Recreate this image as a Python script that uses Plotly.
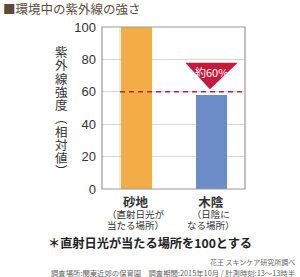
import plotly.graph_objects as go

categories = ["砂地", "木陰"]
sub_line1 = ["（直射日光が", "（日陰に"]
sub_line2 = ["当たる場所）", "なる場所）"]
values = [100, 58]
bar_colors = ["#F3AD47", "#6B8CC7"]
y_ticks = [0, 20, 40, 60, 80, 100]
ref_value = 60
badge_text = "約60%"
title_text = "■環境中の紫外線の強さ"
y_title_chars = ["紫", "外", "線", "強", "度", "︵", "相", "対", "値", "︶"]
footnote = "＊直射日光が当たる場所を100とする"
source_text = "花王 スキンケア研究所調べ"
survey_text = "調査場所:関東近郊の保育園　調査期間:2015年10月 / 計測時刻:13～13時半"

JP = "Noto Sans CJK JP"
L, R, T, B = 102, 55, 27, 88
W, H = 300, 277
PW, PH = W - L - R, H - T - B


def px_y(py):
    return (H - B - py) / PH


def px_x(px):
    return (px - L) / PW


BAR_W = 0.42
fig = go.Figure()
fig.add_trace(go.Bar(
    x=[0, 1], y=values, width=BAR_W,
    marker=dict(color=bar_colors, line=dict(width=0)),
    hoverinfo="skip",
))

shapes = []
# soft glow at the left edge of the first bar
shapes.append(dict(type="rect", xref="x", yref="y",
                   x0=-BAR_W / 2 - 0.025, x1=-BAR_W / 2, y0=0, y1=values[0],
                   fillcolor="#FCEBC0", line=dict(width=0), layer="below"))
# dashed reference line
shapes.append(dict(type="line", xref="x", yref="y", x0=-0.22, x1=1.447,
                   y0=ref_value, y1=ref_value,
                   line=dict(color="#C41E3A", width=1.5, dash="5px,4px")))
# badge triangle above the second bar
tri_top = ref_value + 18
tri_tip = ref_value + 1.5
shapes.append(dict(type="path", xref="x", yref="y",
                   path=f"M {1-0.35},{tri_top} L {1+0.35},{tri_top} L {1-0.02},{tri_tip} Z",
                   fillcolor="#C8193C", line=dict(width=0)))
# plot border
shapes.append(dict(type="rect", xref="paper", yref="paper", x0=0, x1=1, y0=0, y1=1,
                   line=dict(color="#9A9A9A", width=1.2), layer="above"))

ann = []
ann.append(dict(text=badge_text, xref="x", yref="y", x=1.0, y=ref_value + 12.5,
                showarrow=False, font=dict(family=JP, size=11, color="white")))
ann.append(dict(text=title_text, xref="paper", yref="paper", x=px_x(1), y=px_y(9),
                xanchor="left", yanchor="middle", showarrow=False,
                font=dict(family=JP, size=12.5, color="#5E4A3C")))
ytitle = "<br>".join(f'<span style="font-size:12.5px">{ch}</span>' for ch in y_title_chars)
ann.append(dict(text=ytitle, xref="paper", yref="paper",
                x=px_x(61), y=px_y(111), showarrow=False, xanchor="center",
                yanchor="middle", borderpad=0,
                font=dict(family=JP, size=10.2, color="#333333")))
for i, (c, s1, s2) in enumerate(zip(categories, sub_line1, sub_line2)):
    txt = (f'<span style="font-size:12.5px"><b>{c}</b></span><br>'
           f'<span style="font-size:9.5px">{s1}</span><br>'
           f'<span style="font-size:9.5px">{s2}</span>')
    ann.append(dict(text=txt, xref="x", yref="paper", x=i, y=px_y(212),
                    showarrow=False, yanchor="middle", borderpad=0,
                    font=dict(family=JP, size=8.5, color="#333333")))
ann.append(dict(text=f"<b>{footnote}</b>", xref="paper", yref="paper", x=px_x(150),
                y=px_y(243), showarrow=False, xanchor="center", yanchor="middle",
                font=dict(family=JP, size=12.2, color="#222222")))
ann.append(dict(text=source_text, xref="paper", yref="paper", x=px_x(297),
                y=px_y(262), showarrow=False, xanchor="right", yanchor="middle",
                font=dict(family=JP, size=7, color="#666666")))
ann.append(dict(text=survey_text, xref="paper", yref="paper", x=px_x(297),
                y=px_y(272), showarrow=False, xanchor="right", yanchor="middle",
                font=dict(family=JP, size=7.35, color="#666666")))

fig.update_layout(
    width=W, height=H,
    margin=dict(l=L, r=R, t=T, b=B, pad=0),
    paper_bgcolor="white", plot_bgcolor="white",
    showlegend=False, bargap=0,
    shapes=shapes, annotations=ann,
    xaxis=dict(range=[-0.46, 1.447], showticklabels=False, showgrid=False,
               zeroline=False, fixedrange=True),
    yaxis=dict(range=[0, 100], tickvals=y_ticks, showgrid=True,
               gridcolor="#D6D6D6", gridwidth=1, zeroline=False,
               ticks="", ticklen=0, ticklabelstandoff=5,
               tickfont=dict(family="Liberation Sans", size=13, color="#333333"),
               fixedrange=True),
)
fig.write_html("out.html", config={"displayModeBar": False})
